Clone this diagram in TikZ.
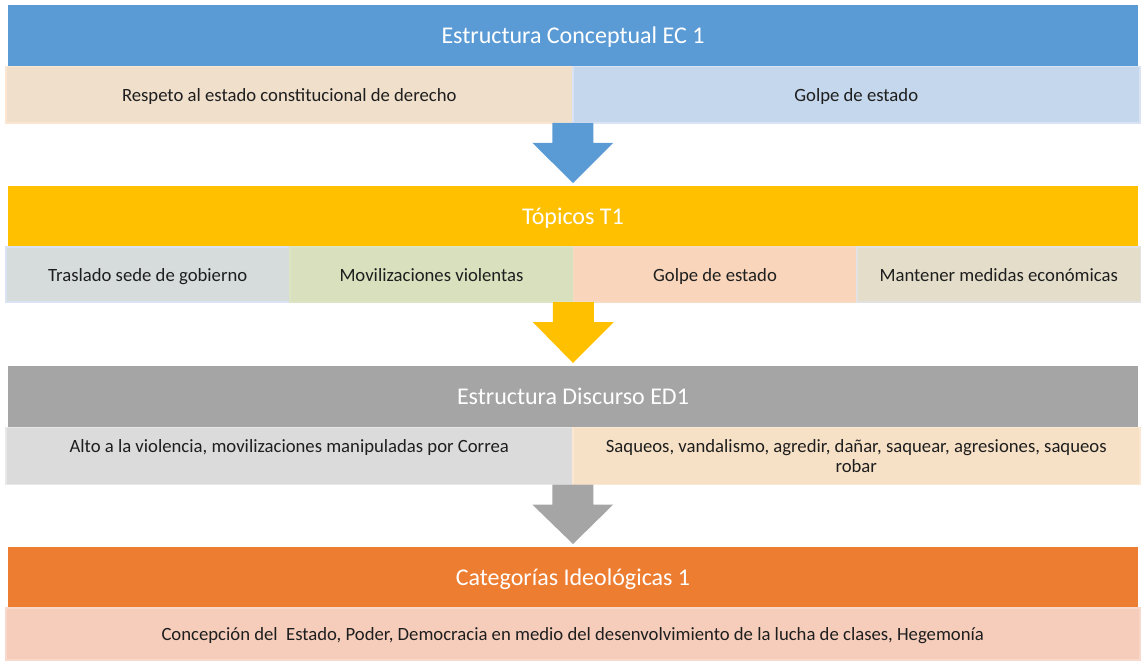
\documentclass[tikz,border=0pt]{standalone}
\usepackage{fontspec}
\setmainfont{Carlito}
\usetikzlibrary{calc}
\usetikzlibrary{positioning}
\definecolor{azulEC}{HTML}{5B9BD5}
\definecolor{amarT}{HTML}{FFC000}
\definecolor{grisED}{HTML}{A5A5A5}
\definecolor{naranCI}{HTML}{ED7D31}
\definecolor{texto}{HTML}{1E1E1E}
% rellenos y bordes de las celdas
\definecolor{ecA}{HTML}{EFDFCB}\definecolor{ecAb}{HTML}{FCE6D2}
\definecolor{ecB}{HTML}{C5D7EC}\definecolor{ecBb}{HTML}{DAE3F3}
\definecolor{tpA}{HTML}{D5DCDB}\definecolor{tpAb}{HTML}{DAE3F3}
\definecolor{tpB}{HTML}{D8E0BD}\definecolor{tpBb}{HTML}{DCE4C4}
\definecolor{tpC}{HTML}{F8D5BB}\definecolor{tpCb}{HTML}{F8D9C2}
\definecolor{tpD}{HTML}{E3DDCA}\definecolor{tpDb}{HTML}{E2E2E2}
\definecolor{edA}{HTML}{DBDBDB}\definecolor{edAb}{HTML}{E8E8E8}
\definecolor{edB}{HTML}{F7E1C6}\definecolor{edBb}{HTML}{FCE8D2}
\definecolor{ciA}{HTML}{F6CDBB}\definecolor{ciAb}{HTML}{F8D8CA}
% flecha gruesa entre dos bloques
\newcommand{\Flecha}[3]{%
    \fill[#3] ($(#1)+(-20.5,0)$) -- ($(#1)+(20.5,0)$)
        -- ($(#1)+(20.5,20)$) -- ($(#1)+(40.5,20)$)
        -- ($(#2)+(0,-3)$)
        -- ($(#1)+(-40.5,20)$) -- ($(#1)+(-20.5,20)$) -- cycle ;
}
\tikzset{
    barra/.style={anchor=north west,inner sep=0pt,outer sep=0pt,
        minimum width=1130,minimum height=61,text=white,
        text height=18pt,text depth=2pt,
        font=\fontsize{24}{28}\selectfont},
    celda/.style n args={2}{anchor=north west,inner sep=0pt,outer sep=0pt,
        fill=#1,draw=#2,line width=1.5pt,minimum height=56,
        text=texto,align=center,font=\fontsize{18.7}{20}\selectfont},
    linea/.style={text height=15pt,text depth=1.6pt},
}

\begin{document}
\begin{tikzpicture}[x=1pt,y=-1pt]
\useasboundingbox (0,0) rectangle (1141,661);

% Estructura conceptual
\node[barra,fill=azulEC] (ec) at (8,5) {Estructura Conceptual EC 1};
\node[celda={ecA}{ecAb},linea,minimum width=567] (ec1) at (5.75,66.75)
    {Respeto al estado constitucional de derecho};
\node[celda={ecB}{ecBb},linea,minimum width=567] (ec2) at (ec1.north east)
    {Golpe de estado};

% Topicos
\node[barra,fill=amarT] (tp) at (8,186) {Tópicos T1};
\node[celda={tpA}{tpAb},linea,minimum width=284,minimum height=55] (tp1) at (5.75,247)
    {Traslado sede de gobierno};
\node[celda={tpB}{tpBb},linea,minimum width=283.5,minimum height=55] (tp2) at (tp1.north east)
    {Movilizaciones violentas};
\node[celda={tpC}{tpCb},linea,minimum width=283.5,minimum height=55] (tp3) at (tp2.north east)
    {Golpe de estado};
\node[celda={tpD}{tpDb},linea,minimum width=284,minimum height=55] (tp4) at (tp3.north east)
    {Mantener medidas económicas};

% Discurso
\node[barra,fill=grisED] (ed) at (8,366) {Estructura Discurso ED1};
\node[celda={edA}{edAb},minimum width=567,minimum height=57] (ed1) at (5.75,427.5)
    {Alto a la violencia, movilizaciones manipuladas por Correa\\ \mbox{}};
\node[celda={edB}{edBb},minimum width=567,minimum height=57] (ed2) at (ed1.north east)
    {Saqueos, vandalismo, agredir, dañar, saquear, agresiones, saqueos\\ robar};

% Categorias
\node[barra,fill=naranCI] (ci) at (8,547) {Categorías Ideológicas 1};
\node[celda={ciA}{ciAb},linea,minimum width=1134,minimum height=52] (ci1) at (5.75,607.75)
    {Concepción del~ Estado, Poder, Democracia en medio del desenvolvimiento de la lucha de clases, Hegemonía};

% flechas
\Flecha{ec1.south east}{tp.north}{azulEC}
\Flecha{tp2.south east}{ed.north}{amarT}
\Flecha{ed1.south east}{ci.north}{grisED}

\end{tikzpicture}
\end{document}
